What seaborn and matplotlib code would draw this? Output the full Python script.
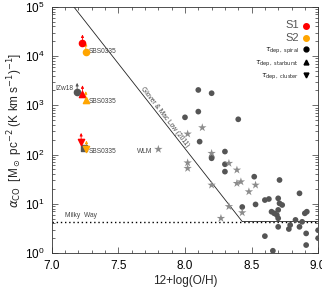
import numpy as np
import pandas as pd
import seaborn as sns
import matplotlib.pyplot as plt
from matplotlib.lines import Line2D
from matplotlib.ticker import MultipleLocator, LogLocator, NullFormatter

# comparison sample (grey): circles and stars
circ_x = [8.10, 8.20, 8.10, 8.00, 8.40, 8.11, 8.30, 8.20, 8.20, 8.30,
          8.30, 8.52, 8.71, 8.86, 8.43, 8.53, 8.60, 8.63, 8.70, 8.71,
          8.73, 8.65, 8.67, 8.69, 8.70, 8.70, 8.78, 8.79, 8.83, 8.86,
          8.88, 8.90, 8.915, 8.91, 8.91, 8.60, 8.66, 9.00, 9.00, 8.70]
circ_y = [2050, 1760, 745, 570, 520, 183, 115, 89, 84, 63.5,
          45, 35.5, 30.4, 16.3, 8.6, 9.7, 11.9, 12.5, 12.9, 10.2,
          9.45, 6.9, 6.4, 5.9, 5.07, 3.4, 3.07, 3.7, 4.7, 3.4,
          4.3, 6.4, 6.9, 2.5, 1.45, 2.2, 1.11, 2.9, 2.0, 7.5]
star_x = [7.80, 8.02, 8.02, 8.13, 8.02, 8.20, 8.33, 8.39, 8.20, 8.39,
          8.42, 8.48, 8.53, 8.33, 8.43, 8.27]
star_y = [128, 68, 52.5, 352, 262, 106, 66.5, 48.6, 24, 26,
          28, 17.6, 24, 8.8, 6.6, 5.07]

# SBS0335 (S1, S2) for the three depletion times, lower limits
dep_markers = ['o', '^', 'v']
s1_x = [7.23, 7.23, 7.22]
s1_y = [18300, 1700, 183]
s2_x = [7.255, 7.255, 7.26]
s2_y = [12300, 1290, 128]
izw18_x, izw18_y = 7.19, 1900
sq_x, sq_y = 7.24, 134

# Glover & Mac Low (2011) and Milky Way value
glover_x = [7.165, 8.43, 9.0]
glover_y = [1e5, 4.35, 4.35]
mw_alpha = 4.35

sns.set_style('ticks')
plt.rcParams['font.family'] = ['Liberation Sans', 'DejaVu Sans']
plt.rcParams['mathtext.fontset'] = 'dejavusans'

fig = plt.figure(figsize=(3.22, 2.98), dpi=100)
ax = fig.add_axes([0.161, 0.151, 0.827, 0.826])

grey_c = '#555555'
grey_s = '#8c8c8c'

circles = pd.DataFrame({'x': circ_x, 'y': circ_y})
stars = pd.DataFrame({'x': star_x, 'y': star_y})
sns.scatterplot(data=circles, x='x', y='y', ax=ax, marker='o', s=17,
                color=grey_c, edgecolor='none', zorder=3)
sns.scatterplot(data=stars, x='x', y='y', ax=ax, marker='*', s=40,
                color=grey_s, edgecolor='none', zorder=3)

ax.plot(glover_x, glover_y, color='#222222', lw=0.6, zorder=2)
ax.axhline(mw_alpha, color='k', lw=1.0, ls=(0, (1, 2)), zorder=2)


def up_arrow(x, y, c):
    ax.annotate('', xy=(x, y * 1.5), xytext=(x, y),
                arrowprops=dict(arrowstyle='-|>', color=c, lw=0.6,
                                mutation_scale=4, shrinkA=0, shrinkB=0),
                zorder=4)


up_arrow(izw18_x, izw18_y, grey_c)
ax.scatter([izw18_x], [izw18_y], marker='o', s=20, color=grey_c, zorder=5)
ax.scatter([sq_x], [sq_y], marker='s', s=14, color=grey_c, zorder=5)
for m, x, y in zip(dep_markers, s1_x, s1_y):
    up_arrow(x, y, 'red')
    ax.scatter([x], [y], marker=m, s=20, color='red', zorder=5)
for m, x, y in zip(dep_markers, s2_x, s2_y):
    up_arrow(x, y, 'orange')
    ax.scatter([x], [y], marker=m, s=20, color='orange', zorder=6)

lab = dict(fontsize=4.8, color='#444444')
for y in [12200, 1170, 113]:
    ax.text(7.28, y, 'SBS0335', ha='left', va='center', **lab)
ax.text(7.16, 2150, 'IZw18', ha='right', va='center', **lab)
ax.text(7.755, 113, 'WLM', ha='right', va='center', **lab)
ax.text(7.10, 4.9, 'Milky  Way', ha='left', va='bottom', **lab)
ax.text(7.83, 520, 'Glover & Mac Low (2011)', rotation=-52,
        rotation_mode='anchor', ha='center', va='bottom', **lab)

ax.set_yscale('log')
ax.set_xlim(7.0, 9.0)
ax.set_ylim(1, 1e5)
ax.set_xticks([7.0, 7.5, 8.0, 8.5, 9.0])
ax.set_xticklabels(['7.0', '7.5', '8.0', '8.5', '9.0'])
ax.xaxis.set_minor_locator(MultipleLocator(0.1))
ax.yaxis.set_major_locator(LogLocator(base=10, numticks=10))
ax.yaxis.set_minor_locator(LogLocator(base=10, subs=np.arange(2, 10), numticks=20))
ax.yaxis.set_minor_formatter(NullFormatter())
ax.tick_params(which='both', direction='in', top=True, right=True,
               width=0.5, colors='#333333', labelcolor='black', labelsize=8.5)
ax.tick_params(which='major', length=4, pad=5)
ax.tick_params(which='minor', length=2)
for sp in ax.spines.values():
    sp.set_linewidth(0.6)
    sp.set_color('#333333')

ax.set_xlabel('12+log(O/H)', fontsize=8.5, labelpad=2)
ax.set_ylabel(r'$\alpha_{\rm CO}$  [M$_\odot$ pc$^{-2}$ (K km s$^{-1}$)$^{-1}$]',
              fontsize=8.5, labelpad=0.5)

handles = [Line2D([], [], marker='o', ls='none', color='red', ms=4),
           Line2D([], [], marker='o', ls='none', color='orange', ms=4),
           Line2D([], [], marker='o', ls='none', color='black', ms=3.5),
           Line2D([], [], marker='^', ls='none', color='black', ms=3.5),
           Line2D([], [], marker='v', ls='none', color='black', ms=3.5)]
labels = ['S1', 'S2', r'$\tau_{\rm dep,\ spiral}$',
          r'$\tau_{\rm dep,\ starburst}$', r'$\tau_{\rm dep,\ cluster}$']
leg = ax.legend(handles, labels, loc='upper right', bbox_to_anchor=(0.975, 0.96),
                frameon=False, markerfirst=False, fontsize=5.3, handlelength=0.6,
                handletextpad=0.6, labelspacing=0.35, borderpad=0)
for i, t in enumerate(leg.get_texts()):
    t.set_ha('right')
    if i < 2:
        t.set_fontsize(8)
        t.set_color('#555555')

fig.savefig('out.png', dpi=100)
